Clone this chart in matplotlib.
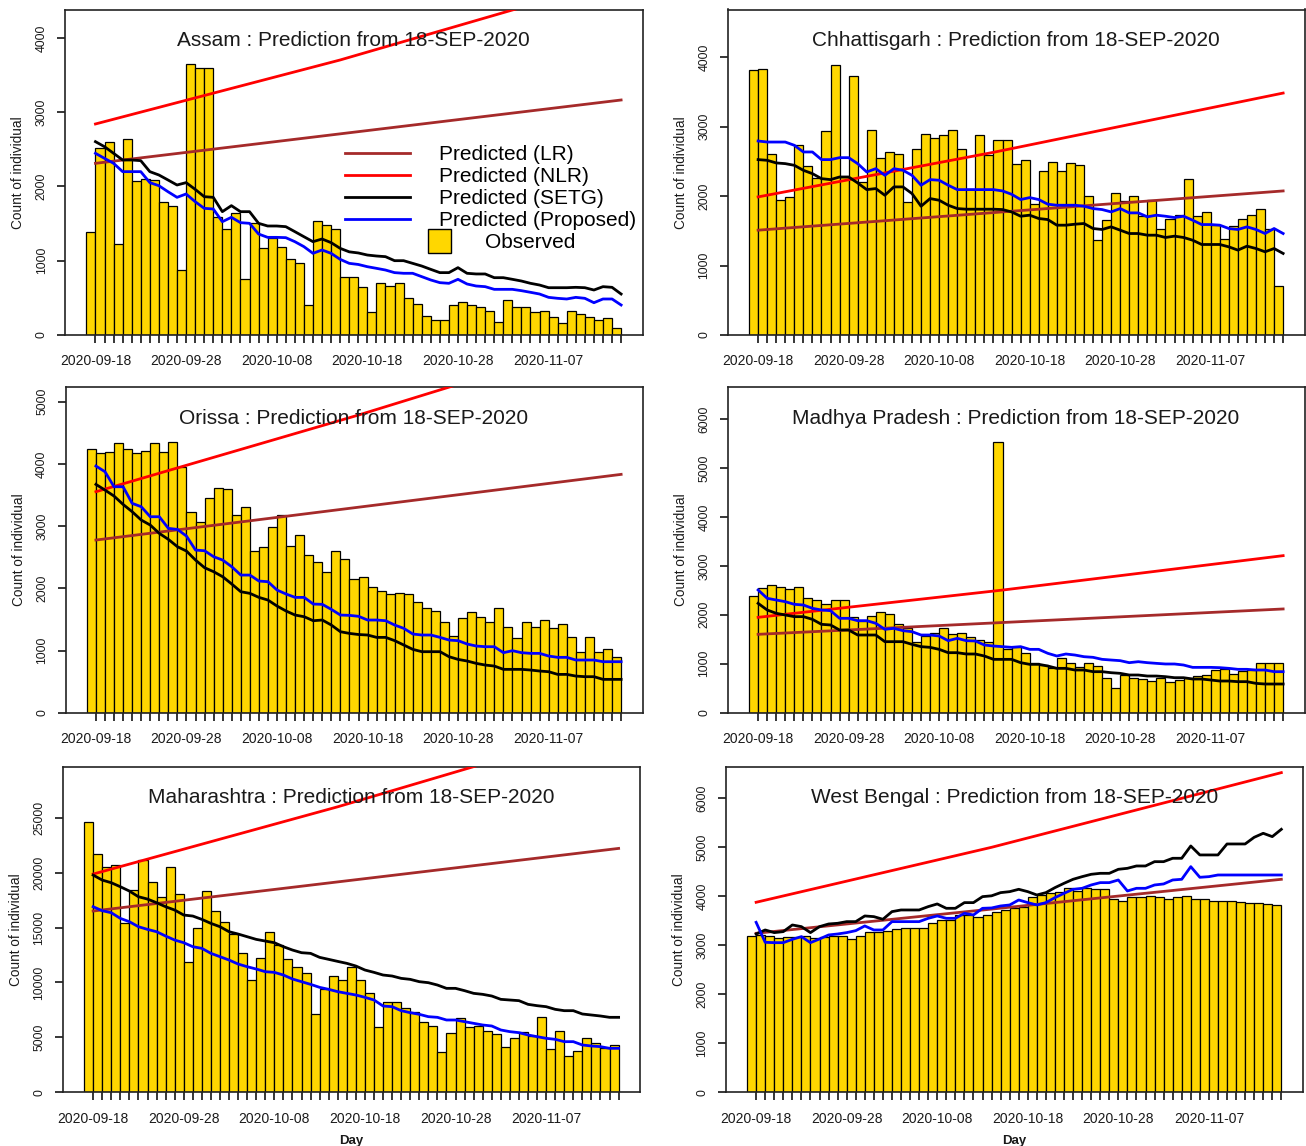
import numpy as np
import matplotlib
matplotlib.use('Agg')
import matplotlib.pyplot as plt
from matplotlib.lines import Line2D
from matplotlib.patches import Rectangle
from matplotlib.legend_handler import HandlerPatch

plt.rcParams['font.family'] = ['Liberation Sans', 'DejaVu Sans']

# tick labels on the day axis (day 1 = 2020-09-18)
label_days = [1, 11, 21, 31, 41, 51]
date_labels = ['2020-09-18', '2020-09-28', '2020-10-08', '2020-10-18', '2020-10-28', '2020-11-07']

# ---------------- Assam ----------------
assam_obs = [1392, 2514, 2604, 1230, 2640, 2074, 2097, 2088, 1796, 1737,
             875, 3645, 3591, 3591, 1585, 1423, 1639, 750, 1513, 1176,
             1302, 1190, 1019, 965, 404, 1535, 1477, 1423, 777, 777,
             651, 314, 696, 664, 696, 503, 418, 261, 202, 202,
             404, 449, 404, 382, 328, 171, 471, 382, 382, 305,
             328, 238, 157, 328, 278, 238, 202, 224, 99]
assam_setg = [2604, 2536, 2447, 2357, 2357, 2348, 2200, 2155, 2088, 2020,
              2052, 1962, 1863, 1854, 1661, 1742, 1661, 1661, 1504, 1468,
              1468, 1459, 1392, 1324, 1257, 1293, 1244, 1167, 1120, 1105,
              1077, 1064, 1055, 1001, 1001, 965, 929, 884, 840, 840,
              907, 831, 822, 822, 772, 772, 750, 727, 696, 673,
              637, 637, 637, 642, 637, 606, 651, 642, 552]
assam_prop = [2447, 2379, 2312, 2200, 2200, 2200, 2052, 2011, 1930, 1854,
              1899, 1796, 1706, 1697, 1526, 1585, 1513, 1504, 1360, 1315,
              1315, 1311, 1257, 1190, 1100, 1145, 1100, 1019, 965, 950,
              920, 898, 875, 840, 831, 831, 786, 741, 705, 696,
              750, 687, 660, 651, 615, 615, 615, 597, 575, 552,
              507, 494, 485, 507, 494, 435, 485, 485, 404]
assam_lr_days, assam_lr = [1, 59], [2312, 3165]
assam_nlr_days, assam_nlr = [1, 28, 47, 50], [2842, 3704, 4377, 4480]

# ---------------- Chhattisgarh ----------------
chh_obs = [3808, 3832, 2611, 1950, 1988, 2740, 2429, 2266, 2932, 3890,
           2275, 3722, 2204, 2946, 2553, 2635, 2611, 1916, 2683, 2889,
           2841, 2874, 2946, 2683, 2100, 2874, 2587, 2812, 2812, 2457,
           2515, 1892, 2362, 2496, 2362, 2477, 2443, 2002, 1365, 1653,
           2045, 1931, 2002, 1710, 1940, 1533, 1677, 1725, 2251, 1715,
           1772, 1581, 1375, 1571, 1667, 1725, 1820, 1533, 709]
chh_setg = [2525, 2515, 2477, 2467, 2443, 2371, 2323, 2251, 2237, 2275,
            2275, 2189, 2093, 2108, 2012, 2132, 2132, 2036, 1854, 1964,
            1940, 1868, 1820, 1811, 1811, 1811, 1811, 1806, 1772, 1710,
            1725, 1677, 1662, 1581, 1581, 1595, 1605, 1533, 1519, 1557,
            1509, 1461, 1461, 1437, 1437, 1404, 1423, 1404, 1365, 1303,
            1303, 1303, 1269, 1222, 1279, 1245, 1198, 1245, 1174]
chh_prop = [2793, 2778, 2778, 2778, 2731, 2635, 2635, 2525, 2525, 2553,
            2553, 2467, 2347, 2395, 2299, 2395, 2371, 2299, 2156, 2237,
            2228, 2156, 2093, 2093, 2093, 2093, 2093, 2074, 2026, 1950,
            1978, 1950, 1883, 1868, 1868, 1868, 1854, 1820, 1806, 1772,
            1820, 1758, 1758, 1701, 1725, 1710, 1691, 1710, 1653, 1590,
            1590, 1581, 1533, 1519, 1557, 1519, 1461, 1533, 1461]
chh_lr_days, chh_lr = [1, 59], [1509, 2074]
chh_nlr_days, chh_nlr = [1, 27, 59], [1988, 2630, 3483]

# ---------------- Orissa ----------------
ori_obs = [4239, 4169, 4196, 4330, 4239, 4169, 4212, 4330, 4196, 4346,
           3955, 3232, 3060, 3446, 3607, 3591, 3178, 3312, 2599, 2669,
           2990, 3178, 2685, 2856, 2535, 2417, 2267, 2604, 2465, 2144,
           2176, 2015, 1961, 1902, 1929, 1902, 1785, 1688, 1635, 1463,
           1233, 1527, 1613, 1543, 1463, 1688, 1383, 1195, 1463, 1383,
           1490, 1356, 1420, 1211, 981, 1211, 981, 1024, 900]
ori_setg = [3671, 3580, 3483, 3349, 3232, 3098, 3017, 2883, 2787, 2669,
            2599, 2454, 2331, 2267, 2186, 2069, 1945, 1919, 1854, 1811,
            1715, 1635, 1570, 1543, 1479, 1490, 1409, 1302, 1275, 1257,
            1249, 1211, 1211, 1158, 1088, 1018, 981, 981, 981, 900,
            857, 831, 793, 766, 750, 697, 697, 697, 686, 670,
            659, 616, 616, 589, 579, 579, 536, 536, 536]
ori_prop = [3966, 3875, 3633, 3633, 3366, 3312, 3151, 3151, 2964, 2947,
            2840, 2615, 2604, 2508, 2454, 2347, 2213, 2213, 2117, 2106,
            1972, 1908, 1854, 1854, 1747, 1742, 1661, 1570, 1565, 1550,
            1490, 1490, 1479, 1409, 1356, 1265, 1249, 1249, 1211, 1168,
            1158, 1104, 1072, 1061, 1061, 965, 997, 965, 954, 954,
            911, 890, 890, 847, 847, 847, 820, 820, 820]
ori_lr_days, ori_lr = [1, 59], [2776, 3832]
ori_nlr_days, ori_nlr = [1, 30, 41], [3553, 4786, 5280]

# ---------------- Madhya Pradesh ----------------
mp_obs = [2391, 2554, 2609, 2575, 2520, 2561, 2337, 2302, 2221, 2302,
          2302, 1962, 1880, 1982, 2050, 2016, 1805, 1723, 1451, 1567,
          1635, 1723, 1601, 1621, 1553, 1485, 1451, 5525, 1294, 1349,
          1226, 1008, 974, 906, 1110, 1022, 940, 1008, 954, 715,
          497, 770, 715, 681, 647, 715, 634, 668, 702, 749,
          770, 872, 886, 790, 851, 872, 1022, 1022, 1008]
mp_setg = [2234, 2098, 2030, 1996, 1962, 1962, 1907, 1805, 1792, 1689,
           1689, 1587, 1587, 1587, 1451, 1451, 1451, 1396, 1349, 1335,
           1294, 1226, 1226, 1199, 1199, 1158, 1090, 1090, 1090, 1022,
           988, 988, 954, 906, 906, 872, 872, 838, 838, 817,
           804, 770, 770, 749, 749, 736, 715, 715, 688, 688,
           668, 647, 647, 634, 634, 599, 586, 586, 586]
mp_prop = [2507, 2337, 2302, 2268, 2214, 2200, 2132, 2098, 2084, 1928,
           1928, 1880, 1880, 1826, 1703, 1723, 1676, 1655, 1587, 1587,
           1567, 1471, 1519, 1471, 1465, 1383, 1362, 1349, 1335, 1349,
           1294, 1294, 1213, 1158, 1199, 1178, 1144, 1131, 1090, 1076,
           1063, 1022, 1042, 1022, 1008, 995, 995, 974, 926, 926,
           926, 920, 906, 886, 886, 872, 872, 838, 838]
mp_lr_days, mp_lr = [1, 59], [1601, 2119]
mp_nlr_days, mp_nlr = [1, 28, 59], [1948, 2505, 3208]

# ---------------- Maharashtra ----------------
mh_obs = [24636, 21663, 20540, 20692, 15382, 18416, 21147, 19114, 17810, 20480,
          18052, 11893, 14988, 18325, 16535, 15534, 14412, 12652, 10225, 12257,
          14624, 13410, 12136, 11438, 10832, 7130, 9405, 10589, 10225, 11377,
          10225, 9011, 5977, 8192, 8192, 7646, 7342, 6432, 6068, 3701,
          5370, 6796, 5977, 6038, 5613, 5310, 4096, 4915, 5461, 5128,
          6887, 3914, 5583, 3337, 3792, 4915, 4521, 4005, 4308]
mh_setg = [19782, 19327, 19084, 18720, 18325, 17810, 17597, 17263, 16899, 16596,
           16141, 16050, 15747, 15382, 15079, 14624, 14412, 14169, 13926, 13774,
           13623, 13259, 12955, 12713, 12652, 12288, 12106, 11920, 11742, 11499,
           11135, 10922, 10680, 10589, 10376, 10285, 10073, 9982, 9769, 9466,
           9466, 9254, 9011, 8920, 8768, 8465, 8404, 8344, 8010, 7888,
           7797, 7555, 7433, 7433, 7130, 7039, 6948, 6827, 6827]
mh_prop = [16899, 16535, 16353, 15837, 15534, 15079, 14836, 14624, 14230, 13865,
           13623, 13259, 13107, 12652, 12349, 12045, 11681, 11438, 11226, 10983,
           10922, 10680, 10316, 10073, 9830, 9557, 9375, 9163, 9011, 8859,
           8647, 8404, 7858, 7797, 7433, 7251, 7100, 6887, 6827, 6584,
           6584, 6432, 6280, 6129, 6038, 5674, 5522, 5431, 5219, 5067,
           4915, 4824, 4612, 4612, 4308, 4217, 4157, 4005, 4005]
mh_lr_days, mh_lr = [1, 59], [16505, 22209]
mh_nlr_days, mh_nlr = [1, 28, 44], [19873, 26000, 29900]

# ---------------- West Bengal ----------------
wb_obs = [3197, 3211, 3190, 3143, 3177, 3177, 3197, 3143, 3177, 3190,
          3197, 3129, 3197, 3279, 3279, 3299, 3327, 3347, 3347, 3347,
          3463, 3517, 3517, 3619, 3619, 3571, 3625, 3673, 3721, 3769,
          3789, 3980, 4027, 4061, 4095, 4163, 4116, 4163, 4143, 4143,
          3946, 3912, 3993, 3980, 4007, 3993, 3939, 3980, 4007, 3939,
          3939, 3912, 3912, 3912, 3891, 3871, 3871, 3844, 3816]
wb_setg = [3231, 3313, 3259, 3279, 3415, 3381, 3259, 3381, 3435, 3449,
           3483, 3483, 3599, 3585, 3531, 3687, 3721, 3721, 3721, 3789,
           3844, 3755, 3755, 3871, 3871, 3993, 4010, 4075, 4095, 4143,
           4095, 4027, 4075, 4177, 4265, 4347, 4401, 4449, 4469, 4469,
           4551, 4571, 4619, 4619, 4707, 4707, 4776, 4776, 5027, 4844,
           4844, 4844, 5068, 5068, 5068, 5204, 5286, 5218, 5367]
wb_prop = [3469, 3061, 3054, 3054, 3122, 3177, 3054, 3129, 3211, 3231,
           3259, 3299, 3395, 3313, 3313, 3483, 3483, 3483, 3483, 3551,
           3599, 3551, 3551, 3653, 3619, 3755, 3762, 3803, 3823, 3925,
           3871, 3823, 3871, 3973, 4061, 4143, 4163, 4231, 4279, 4279,
           4333, 4109, 4163, 4163, 4231, 4252, 4333, 4347, 4605, 4388,
           4401, 4435, 4435, 4435, 4435, 4435, 4435, 4435, 4435]
wb_lr_days, wb_lr = [1, 59], [3245, 4347]
wb_nlr_days, wb_nlr = [1, 27, 59], [3878, 5000, 6524]


W, H = 1306, 1146
GOLD = '#FFD700'
BROWN = '#A52A2A'
TXT = '#1a1a1a'
LW = 2.0


def px_rect(left, right, top, bottom):
    return [left / W, (H - bottom) / H, (right - left) / W, (bottom - top) / H]


def observed_key(legend, orig_handle, xdescent, ydescent, width, height, fontsize):
    # R draws the fill box to the right of the line keys
    side = fontsize * 1.12
    return Rectangle((-xdescent + width * 1.28, -ydescent + height / 2 - side / 2),
                     side, side)


def draw_panel(fig, rect, state, obs, setg, prop, lr_days, lr, nlr_days, nlr,
               ytop, ystep, legend=False, xlabel=False):
    ax = fig.add_axes(rect)
    n = len(obs)
    ax.bar(np.arange(n), obs, width=1.0, align='edge', color=GOLD,
           edgecolor='black', linewidth=0.9, zorder=2)
    days = np.arange(1, n + 1)
    ax.plot(lr_days, lr, color=BROWN, lw=LW, zorder=3)
    ax.plot(nlr_days, nlr, color='red', lw=LW, zorder=3)
    ax.plot(days, setg, color='black', lw=LW, zorder=3)
    ax.plot(days, prop, color='blue', lw=LW, zorder=3)

    ax.set_xlim(-0.04 * n, n * 1.04)
    ax.set_ylim(0, ytop)

    ax.set_xticks(label_days)
    ax.set_xticklabels(date_labels, fontsize=10, color=TXT)
    ax.set_xticks(days, minor=True)
    ax.tick_params(axis='x', which='both', direction='out', length=5.5,
                   width=1.1, pad=8.5)
    yt = np.arange(0, ytop, ystep)
    ax.set_yticks(yt)
    ax.set_yticklabels([str(int(v)) for v in yt], fontsize=8.8, color=TXT,
                       rotation=90, va='center')
    ax.tick_params(axis='y', direction='out', length=5.5, width=1.1, pad=7)
    ax.set_ylabel('Count of individual', fontsize=9.8, color=TXT)
    ax.yaxis.set_label_coords(-0.069, 0.5)
    for s in ax.spines.values():
        s.set_linewidth(1.2)
        s.set_color('#222222')

    ax.text(0.5, 0.905, state + ' : Prediction from 18-SEP-2020',
            transform=ax.transAxes, ha='center', va='center',
            fontsize=15, color=TXT, zorder=5)

    if xlabel:
        ax.set_xlabel('Day', fontsize=9.5, fontweight='bold', color=TXT,
                      labelpad=7)

    if legend:
        handles = [Line2D([], [], color=BROWN, lw=LW),
                   Line2D([], [], color='red', lw=LW),
                   Line2D([], [], color='black', lw=LW),
                   Line2D([], [], color='blue', lw=LW),
                   Rectangle((0, 0), 1, 1, facecolor=GOLD, edgecolor='black',
                             linewidth=1.0)]
        labels = ['Predicted (LR)', 'Predicted (NLR)', 'Predicted (SETG)',
                  'Predicted (Proposed)', '        Observed']
        ax.legend(handles, labels, loc='upper left',
                  bbox_to_anchor=(0.485, 0.585), frameon=False, fontsize=15,
                  handlelength=3.1, handletextpad=1.4, labelspacing=0.15,
                  borderpad=0, borderaxespad=0,
                  handler_map={Rectangle: HandlerPatch(patch_func=observed_key)})
    return ax


def main():
    fig = plt.figure(figsize=(W / 100, H / 100), dpi=100)
    fig.patch.set_facecolor('white')

    draw_panel(fig, px_rect(65, 642.5, 10, 335), 'Assam',
               assam_obs, assam_setg, assam_prop, assam_lr_days, assam_lr,
               assam_nlr_days, assam_nlr, 4377, 1000, legend=True)
    draw_panel(fig, px_rect(727.7, 1304.5, 9.5, 335), 'Chhattisgarh',
               chh_obs, chh_setg, chh_prop, chh_lr_days, chh_lr,
               chh_nlr_days, chh_nlr, 4686, 1000)
    draw_panel(fig, px_rect(65.5, 642.5, 387.3, 712.7), 'Orissa',
               ori_obs, ori_setg, ori_prop, ori_lr_days, ori_lr,
               ori_nlr_days, ori_nlr, 5232, 1000)
    draw_panel(fig, px_rect(727.7, 1304.5, 387.3, 712.7), 'Madhya Pradesh',
               mp_obs, mp_setg, mp_prop, mp_lr_days, mp_lr,
               mp_nlr_days, mp_nlr, 6647, 1000)
    draw_panel(fig, px_rect(62.7, 640, 766.7, 1092.3), 'Maharashtra',
               mh_obs, mh_setg, mh_prop, mh_lr_days, mh_lr,
               mh_nlr_days, mh_nlr, 29650, 5000, xlabel=True)
    draw_panel(fig, px_rect(725.7, 1302.7, 766.7, 1092.3), 'West Bengal',
               wb_obs, wb_setg, wb_prop, wb_lr_days, wb_lr,
               wb_nlr_days, wb_nlr, 6645, 1000, xlabel=True)

    fig.savefig('out.png', dpi=100)


if __name__ == '__main__':
    main()
